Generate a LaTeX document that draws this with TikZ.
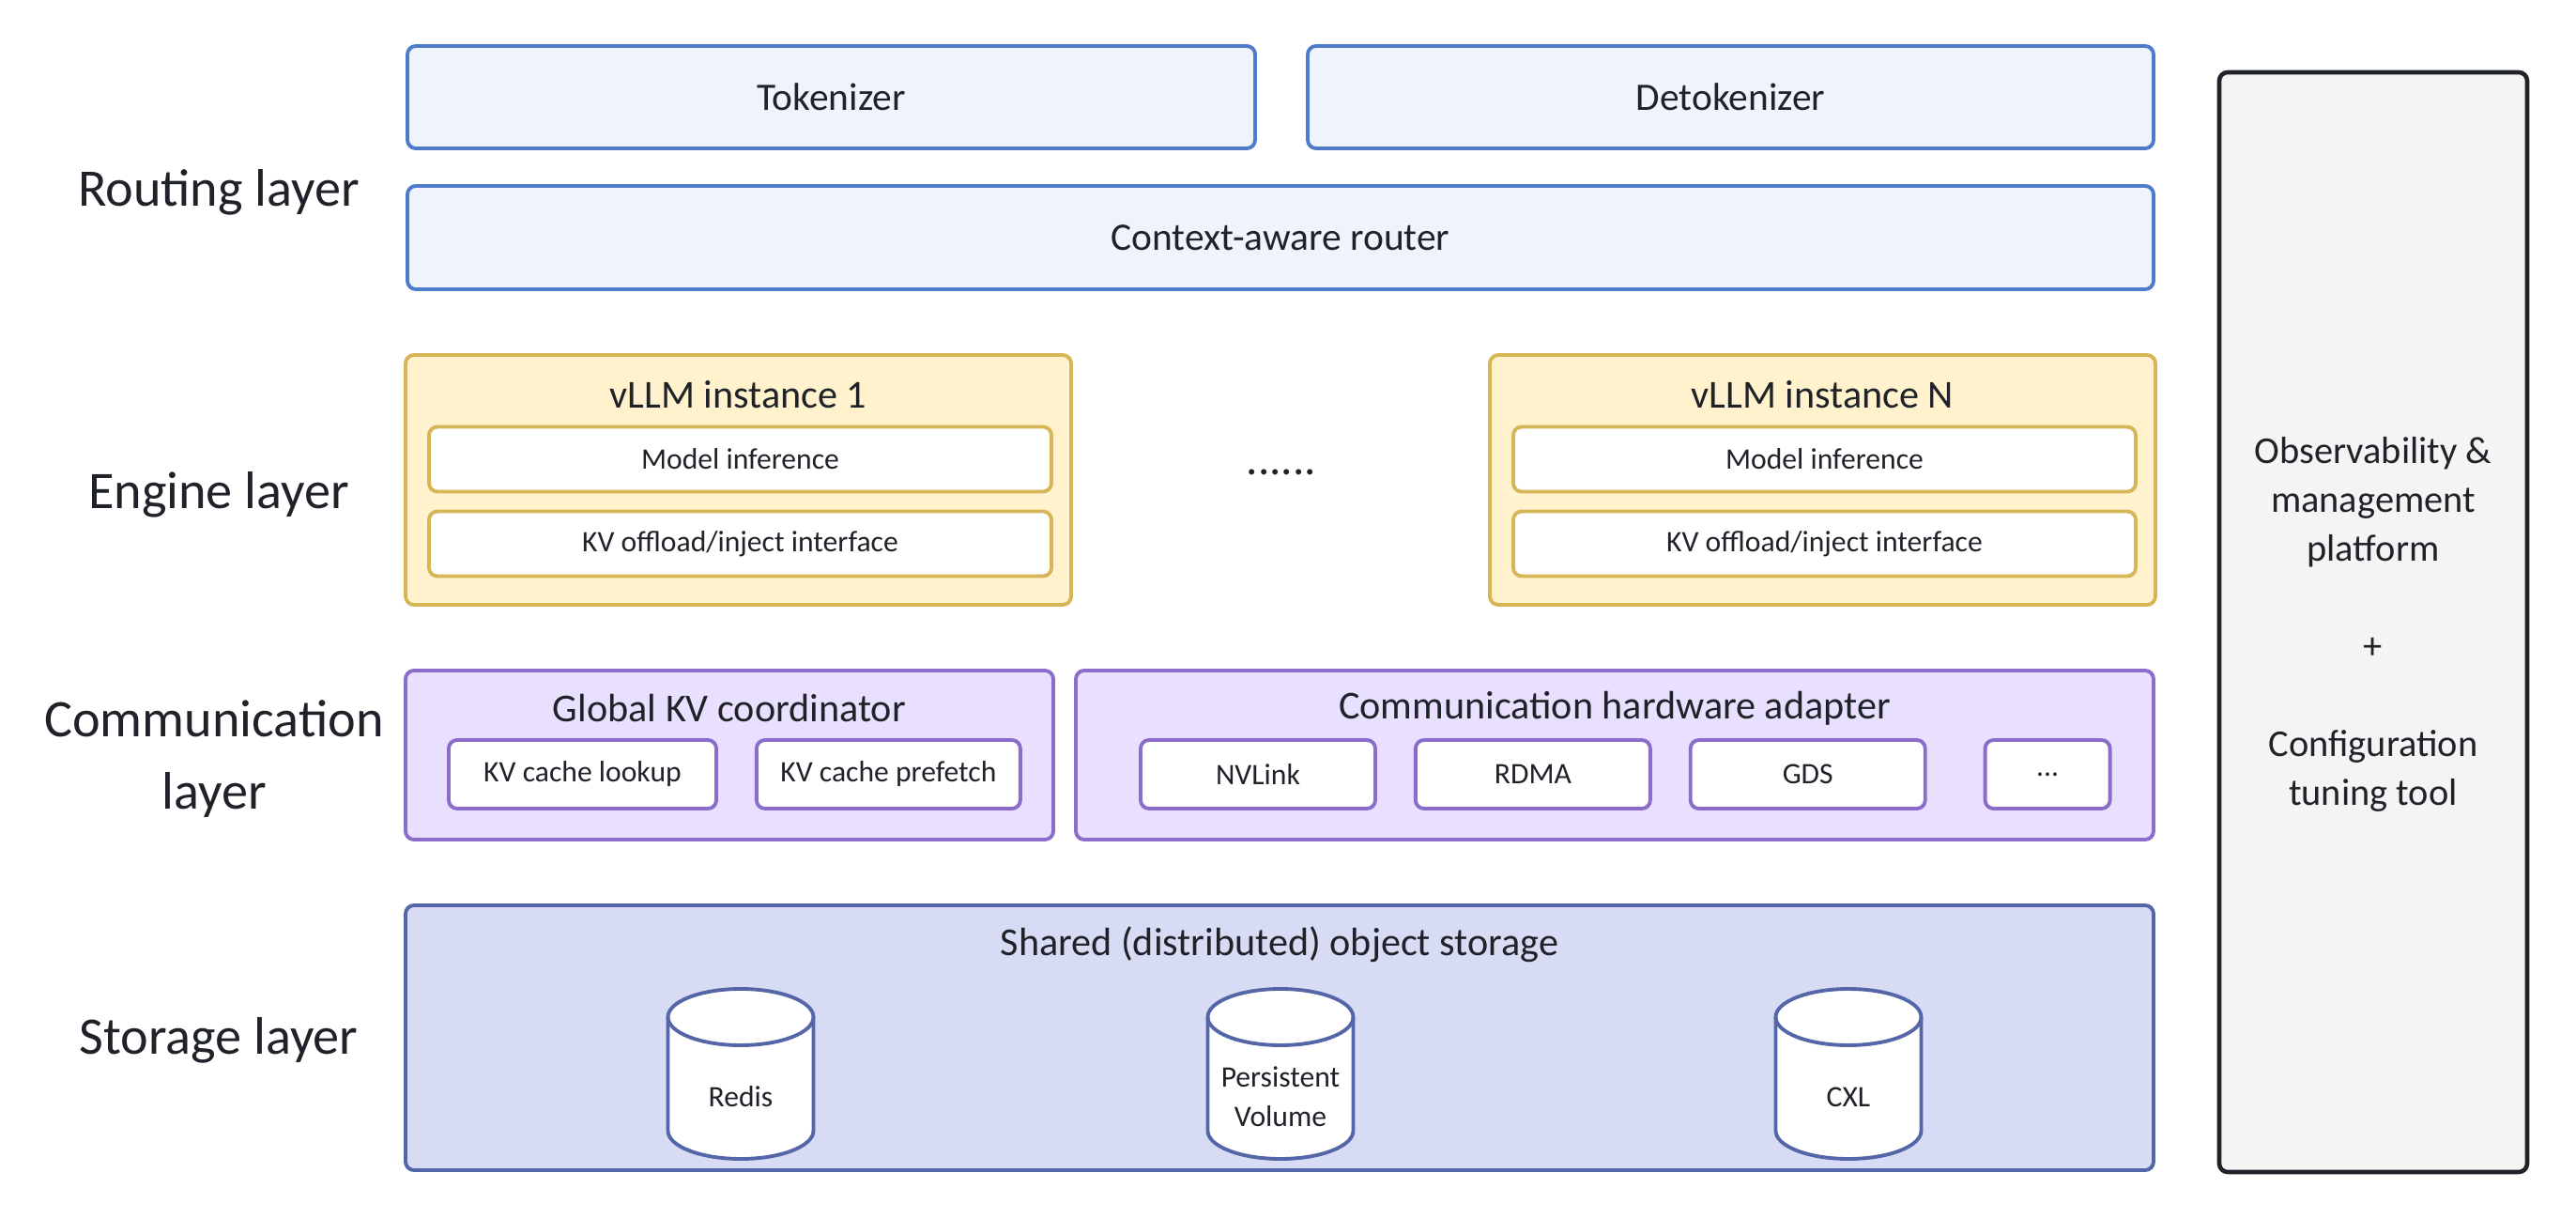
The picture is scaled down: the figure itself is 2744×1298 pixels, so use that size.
\documentclass[tikz,border=0pt]{standalone}
\usepackage{fontspec}
\setmainfont{Carlito}
\usetikzlibrary{positioning}

\definecolor{routefill}{HTML}{EEF3FC}
\definecolor{routeline}{HTML}{4F7BCB}
\definecolor{enginefill}{HTML}{FFF2CC}
\definecolor{engineline}{HTML}{D6B656}
\definecolor{commfill}{HTML}{E8E0FE}
\definecolor{commline}{HTML}{8A6CCB}
\definecolor{storefill}{HTML}{D7DCF4}
\definecolor{storeline}{HTML}{5465A8}
\definecolor{platfill}{HTML}{F4F4F4}
\definecolor{inktext}{HTML}{1F2329}

\tikzset{
  layerlabel/.style={text=inktext, align=center, font=\fontsize{16}{22}\selectfont},
  box/.style={draw, rounded corners=0.9mm, line width=1.1pt, inner sep=0pt, text=inktext},
  routebox/.style={box, fill=routefill, draw=routeline, minimum height=10.9mm, font=\fontsize{11.8}{14}\selectfont},
  enginebox/.style={box, fill=enginefill, draw=engineline, minimum width=70.9mm, minimum height=26.6mm},
  engineitem/.style={box, fill=white, draw=engineline, minimum width=66.3mm, minimum height=6.9mm, font=\fontsize{9}{11}\selectfont},
  commbox/.style={box, fill=commfill, draw=commline, minimum height=18mm},
  commitem/.style={box, fill=white, draw=commline, minimum height=7.3mm, font=\fontsize{9}{11}\selectfont},
  storebox/.style={box, fill=storefill, draw=storeline},
  dbline/.style={draw=storeline, fill=white, line width=1.1pt},
  dbtext/.style={text=inktext, align=center, inner sep=0pt, font=\fontsize{9}{12}\selectfont},
  boxtitle/.style={text=inktext, font=\fontsize{12}{14}\selectfont, inner sep=0pt},
  platbox/.style={box, fill=platfill, draw=inktext, line width=1.3pt},
  plattext/.style={text=inktext, align=center, inner sep=0pt, font=\fontsize{11.5}{14.8}\selectfont}
}

\begin{document}
\begin{tikzpicture}[x=0.1mm, y=-0.1mm, node distance=3.9mm]
  \useasboundingbox (0,0) rectangle (2744,1298);

  % layer names
  \node[layerlabel] (lrouting) at (233,205) {Routing layer};
  \node[layerlabel] (lengine) at (233,527) {Engine layer};
  \node[layerlabel] (lcomm) at (228,808) {Communication\\layer};
  \node[layerlabel] (lstorage) at (233,1108) {Storage layer};

  % routing layer
  \node[routebox, minimum width=90.3mm] (tokenizer) at (885.5,103.5) {Tokenizer};
  \node[routebox, minimum width=90.1mm] (detokenizer) at (1843.5,103.5) {Detokenizer};
  \node[routebox, minimum width=186mm, minimum height=11mm] (router) at (1364,253) {Context-aware router};

  % engine layer
  \node[enginebox] (inst1) at (786.5,511) {};
  \node[boxtitle] (inst1title) at (786.5,420) {vLLM instance 1};
  \node[engineitem] (infer1) at (788.5,489) {Model inference};
  \node[engineitem] (kv1) at (788.5,579) {KV offload/inject interface};

  \node[boxtitle, font=\fontsize{14}{16}\selectfont] (dots) at (1365,503) {......};

  \node[enginebox] (instN) at (1941.5,511) {};
  \node[boxtitle] (instNtitle) at (1941.5,420) {vLLM instance N};
  \node[engineitem] (inferN) at (1943.5,489) {Model inference};
  \node[engineitem] (kvN) at (1943.5,579) {KV offload/inject interface};

  % communication layer
  \node[commbox, minimum width=69mm] (coord) at (777,804) {};
  \node[boxtitle] (coordtitle) at (777,754) {Global KV coordinator};
  \node[commitem, minimum width=28.5mm] (lookup) at (620.5,824.5) {KV cache lookup};
  \node[commitem, minimum width=28.1mm, right=of lookup] (prefetch) {KV cache prefetch};

  \node[commbox, minimum width=114.8mm] (adapter) at (1720,804) {};
  \node[boxtitle] (adaptertitle) at (1720,754) {Communication hardware adapter};
  \node[commitem, minimum width=25mm] (nvlink) at (1340,824.5) {NVLink};
  \node[commitem, minimum width=25mm, right=of nvlink] (rdma) {RDMA};
  \node[commitem, minimum width=25mm, right=of rdma] (gds) {GDS};
  \node[commitem, minimum width=13.3mm, right=6mm of gds] (more) {...};

  % storage layer
  \node[storebox, minimum width=186.2mm, minimum height=28.2mm] (storage) at (1363,1105) {};
  \node[boxtitle] (storagetitle) at (1363,1006) {Shared (distributed) object storage};
  \foreach \cx/\cname/\ctext in {789/redis/{Redis}, 1364/volume/{Persistent\\Volume}, 1969/cxl/{CXL}} {
    \path[dbline] (\cx,1083) ++(-7.75mm,0) -- ++(0,-12.1mm)
      arc[start angle=180, end angle=360, x radius=7.75mm, y radius=3mm] -- ++(0,12.1mm)
      arc[start angle=0, end angle=180, x radius=7.75mm, y radius=3mm] -- cycle;
    \draw[dbline, fill=none] (\cx,1083) ++(-7.75mm,0)
      arc[start angle=180, end angle=360, x radius=7.75mm, y radius=3mm];
    \node[dbtext] (\cname) at (\cx,1168) {\ctext};
  }

  % side platform
  \node[platbox, minimum width=32.8mm, minimum height=117.1mm] (platform) at (2528,662.5) {};
  \node[plattext] (obs) at (2528,535) {Observability \&\\management\\platform};
  \node[plattext] (plus) at (2528,690) {+};
  \node[plattext] (tuning) at (2528,821) {Configuration\\tuning tool};
\end{tikzpicture}
\end{document}
